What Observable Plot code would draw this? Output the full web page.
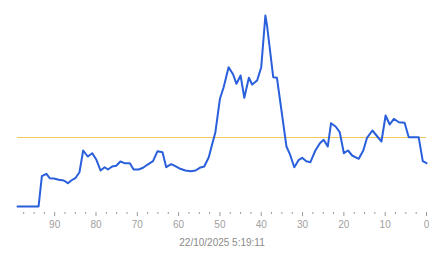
<!DOCTYPE html>
<html>
<head>
<meta charset="utf-8">
<script src="https://cdn.jsdelivr.net/npm/d3@7"></script>
<script src="https://cdn.jsdelivr.net/npm/@observablehq/plot@0.6"></script>
<style>
  html, body { margin: 0; padding: 0; background: #fff; }
  #chart { width: 443px; height: 258px; }
</style>
</head>
<body>
<div id="chart"></div>
<script>
// Age (x, counting down to 0) and value (y)
const ages = [99.0, 93.9, 93.1, 92.0, 91.2, 90.2, 89.0, 87.8, 86.8, 86.0, 85.0, 84.0, 83.1, 82.0, 80.9, 79.9,
  78.9, 77.9, 77.1, 76.1, 75.1, 74.1, 73.1, 71.8, 70.9, 69.7, 68.6, 67.6, 66.2, 65.1, 63.9, 63.0,
  61.8, 60.8, 59.6, 58.4, 57.1, 55.9, 54.9, 53.8, 52.7, 51.9, 51.1, 50.5, 50.0, 49.1, 47.9, 46.8,
  46.0, 45.0, 44.1, 43.0, 42.2, 41.0, 40.0, 39.0, 38.6, 37.1, 36.2, 33.9, 33.1, 32.0, 30.9, 30.1,
  29.1, 28.1, 26.9, 25.8, 24.9, 23.9, 23.1, 22.0, 21.0, 20.0, 19.0, 18.0, 16.9, 16.4, 15.3, 14.4,
  13.1, 11.9, 10.9, 9.9, 8.9, 7.9, 6.7, 5.3, 4.3, 1.9, 0.9, 0.0];
const values = [0, 0, 30.3, 32.7, 28.3, 28, 26.7, 26, 23.3, 26, 28.3, 34.3, 56, 50, 53.3, 46.7,
  36, 39.3, 37, 40, 40.7, 45, 43.3, 43.3, 37, 37, 38.7, 41.7, 45.3, 55.3, 54.3, 39.3,
  42.3, 40.3, 37.7, 36, 35.3, 36, 38.7, 40, 49.3, 62, 74.3, 92.7, 107.7, 119.3, 139.3, 132,
  122.7, 131, 108.7, 128.7, 122, 126, 139.3, 191, 181, 129.3, 128.7, 60, 52.7, 39.3, 46.7, 48.7,
  45.3, 44.3, 56, 63.3, 66.7, 60, 83.3, 80, 74.3, 53.3, 56, 51, 48.7, 47.7, 56, 68.7,
  76, 70, 65, 91, 82, 87.7, 84.3, 83.7, 69.3, 69.3, 45.3, 43.3];
const referenceLevel = [69];
const majorTicks = [90, 80, 70, 60, 50, 40, 30, 20, 10, 0];
const minorTicks = [97.5, 95, 92.5, 87.5, 85, 82.5, 77.5, 75, 72.5, 67.5, 65, 62.5, 57.5, 55, 52.5,
  47.5, 45, 42.5, 37.5, 35, 32.5, 27.5, 25, 22.5, 17.5, 15, 12.5, 7.5, 5, 2.5];
const timestamp = ["22/10/2025 5:19:11"];

const data = ages.map((a, i) => ({age: a, value: values[i]}));

const chart = Plot.plot({
  width: 443,
  height: 258,
  marginLeft: 17,
  marginRight: 17,
  marginTop: 15,
  marginBottom: 46,
  insetBottom: 6,
  style: {fontFamily: "'Liberation Sans', Arial, sans-serif", fontSize: "10px", background: "#fff"},
  x: {domain: [99, 0], label: null},
  y: {domain: [0, 191], axis: null, label: null},
  marks: [
    Plot.ruleY(referenceLevel, {stroke: "#f1c95b", strokeWidth: 1}),
    Plot.line(data, {x: "age", y: "value", stroke: "#2a5fdc", strokeWidth: 2, strokeLinejoin: "round"}),
    Plot.axisX({ticks: minorTicks, tickSize: 2, tickFormat: () => "", stroke: "#999", label: null}),
    Plot.axisX({ticks: majorTicks, tickSize: 4, tickPadding: 4, fill: "#a0a0a0", stroke: "#999", fontSize: 10, label: null}),
    Plot.text(timestamp, {frameAnchor: "bottom", dy: 33, lineAnchor: "bottom", fill: "#8a8a8a", fontSize: 10})
  ]
});
document.getElementById("chart").appendChild(chart);
</script>
</body>
</html>
